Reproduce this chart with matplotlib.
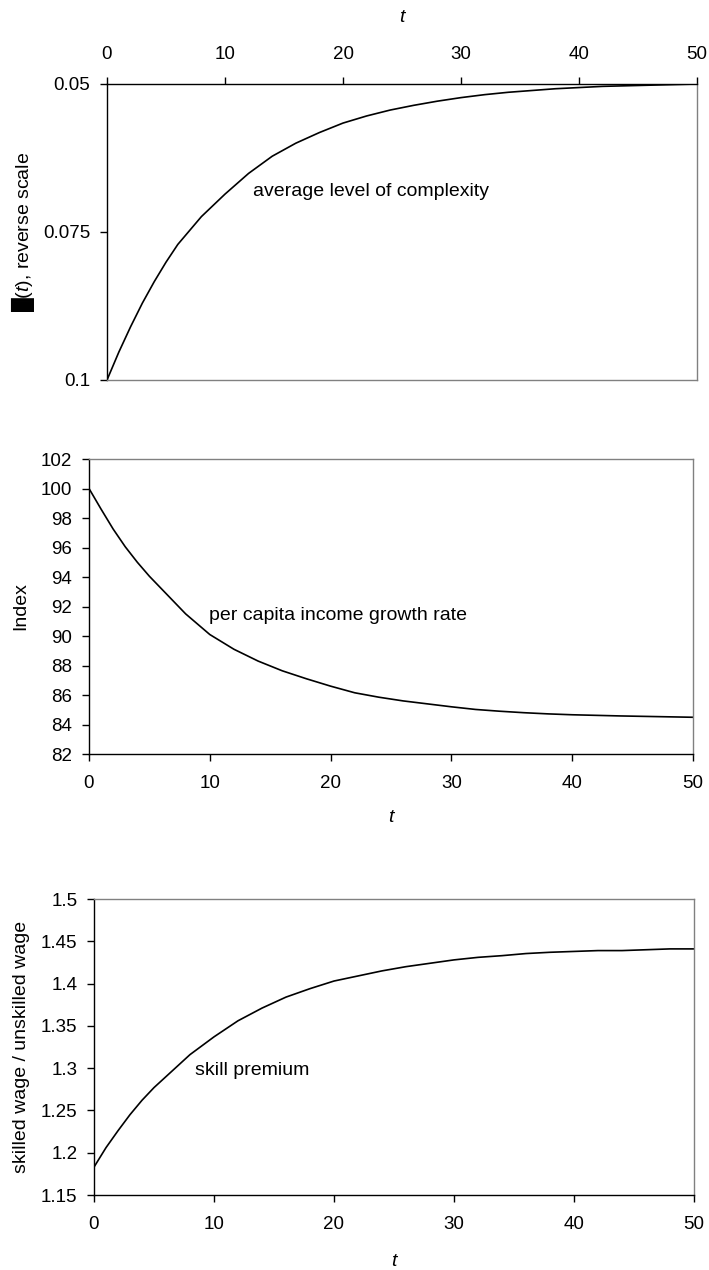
import matplotlib
matplotlib.use("Agg")
import matplotlib.pyplot as plt

plt.rcParams['font.family'] = ['Liberation Sans', 'DejaVu Sans']
plt.rcParams['font.size'] = 14
plt.rcParams['mathtext.fontset'] = 'custom'
plt.rcParams['mathtext.rm'] = 'Liberation Sans'
plt.rcParams['mathtext.it'] = 'Liberation Sans:italic'

# time grid (read roughly every 2 periods, denser at the start)
t = [0, 1, 2, 3, 4, 5, 6, 8, 10, 12, 14, 16, 18, 20, 22, 24,
     26, 28, 30, 32, 34, 36, 38, 40, 42, 44, 46, 48, 50]

# average level of complexity (reverse scale)
complexity = [0.1000, 0.0953, 0.0910, 0.0870, 0.0834, 0.0801, 0.0771, 0.0724,
              0.0686, 0.0651, 0.0622, 0.0600, 0.0582, 0.0566, 0.0554, 0.0544,
              0.0536, 0.0529, 0.0523, 0.0518, 0.0514, 0.0511, 0.0508, 0.0506,
              0.0504, 0.0503, 0.0502, 0.0501, 0.0500]

# per capita income growth rate index
income = [100.0, 98.6, 97.25, 96.05, 95.0, 94.05, 93.2, 91.5, 90.1, 89.1,
          88.3, 87.64, 87.1, 86.6, 86.15, 85.85, 85.6, 85.4, 85.2, 85.02,
          84.9, 84.8, 84.72, 84.66, 84.62, 84.58, 84.55, 84.52, 84.49]

# skill premium
premium = [1.183, 1.206, 1.226, 1.245, 1.262, 1.277, 1.290, 1.316, 1.337,
           1.356, 1.371, 1.384, 1.394, 1.403, 1.409, 1.415, 1.420, 1.424,
           1.428, 1.431, 1.433, 1.4355, 1.437, 1.438, 1.439, 1.439, 1.440,
           1.441, 1.441]

x_ticks = [0, 10, 20, 30, 40, 50]
W, H = 709, 1270

fig = plt.figure(figsize=(W / 100, H / 100), dpi=100)


def px_axes(left, top, right, bottom):
    return fig.add_axes([left / W, 1 - bottom / H, (right - left) / W, (bottom - top) / H])


def style(ax, dark, light):
    for s in dark:
        ax.spines[s].set_color('black')
        ax.spines[s].set_linewidth(1.0)
    for s in light:
        ax.spines[s].set_color('#808080')
        ax.spines[s].set_linewidth(1.0)
    ax.tick_params(axis='both', length=5, width=1, color='black', labelsize=13.5)
    ax.tick_params(axis='x', pad=10)
    ax.tick_params(axis='y', pad=7)


# 1. complexity, reverse scale, x axis on top
ax1 = px_axes(107, 84, 697, 380)
ax1.plot(t, complexity, color='black', lw=1.2)
ax1.set_xlim(0, 50)
ax1.set_ylim(0.1, 0.05)
ax1.set_xticks(x_ticks)
ax1.set_yticks([0.05, 0.075, 0.1])
ax1.set_yticklabels(['0.05', '0.075', '0.1'])
ax1.xaxis.tick_top()
style(ax1, ['top', 'left'], ['bottom', 'right'])
ax1.text(12.4, 0.0682, 'average level of complexity', va='center', ha='left')
fig.text(402 / W, 1 - 18 / H, 't', ha='center', va='center', style='italic')
fig.text(23 / W, 1 - 232 / H, '█($\\it{t}$), reverse scale', rotation=90,
         ha='center', va='center')

# 2. income growth index
ax2 = px_axes(89, 459, 693, 754)
ax2.plot(t, income, color='black', lw=1.2)
ax2.set_xlim(0, 50)
ax2.set_ylim(82, 102)
ax2.set_xticks(x_ticks)
ax2.set_yticks(range(82, 103, 2))
style(ax2, ['bottom', 'left'], ['top', 'right'])
ax2.text(9.9, 91.4, 'per capita income growth rate', va='center', ha='left')
fig.text(391 / W, 1 - 818 / H, 't', ha='center', va='center', style='italic')
fig.text(21 / W, 1 - 606 / H, 'Index', rotation=90, ha='center', va='center')

# 3. skill premium
ax3 = px_axes(94, 899, 694, 1195)
ax3.plot(t, premium, color='black', lw=1.2)
ax3.set_xlim(0, 50)
ax3.set_ylim(1.15, 1.5)
ax3.set_xticks(x_ticks)
p_ticks = [1.15, 1.2, 1.25, 1.3, 1.35, 1.4, 1.45, 1.5]
ax3.set_yticks(p_ticks)
ax3.set_yticklabels([f"{v:g}" for v in p_ticks])
style(ax3, ['bottom', 'left'], ['top', 'right'])
ax3.text(8.4, 1.297, 'skill premium', va='center', ha='left')
fig.text(394 / W, 1 - 1262 / H, 't', ha='center', va='center', style='italic')
fig.text(22 / W, 1 - 1047 / H, 'skilled wage / unskilled wage', rotation=90,
         ha='center', va='center')

fig.savefig('out.png', dpi=100)
